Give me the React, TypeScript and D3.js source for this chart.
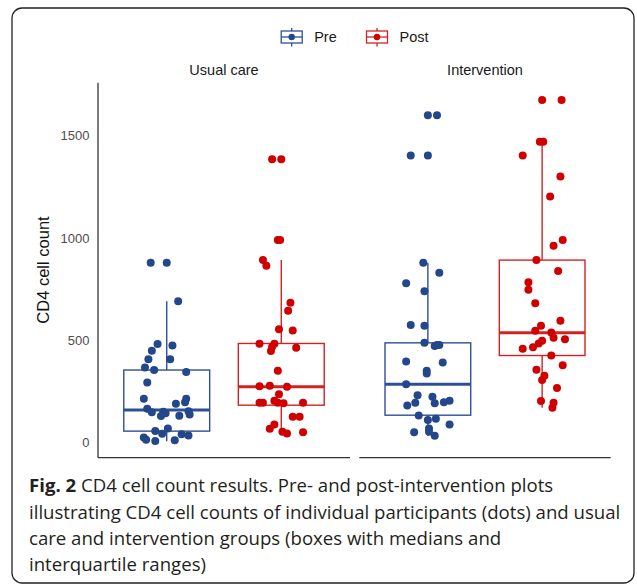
import React from "react";
import { scaleLinear } from "d3";

// data: [value, jitter in category units]
const usualPre: [number, number][] = [
  [879, -0.14], [879, 0.0], [691, 0.1], [481, -0.08], [474, 0.05], [448, -0.13],
  [407, -0.16], [407, 0.03], [366, -0.19], [354, -0.11], [344, 0.17], [293, -0.17],
  [213, -0.2], [213, 0.17], [189, 0.08], [196, 0.16], [164, -0.17], [147, -0.13],
  [150, -0.03], [142, -0.01], [129, -0.05], [130, 0.11], [152, 0.19], [137, 0.2],
  [56, -0.1], [68, 0.01], [42, -0.04], [24, -0.2], [13, -0.18], [7, -0.1],
  [10, 0.07], [40, 0.13], [34, 0.19],
];
const usualPost: [number, number][] = [
  [1386, -0.08], [1386, 0.0], [990, -0.03], [990, -0.01], [892, -0.16], [864, -0.13],
  [683, 0.08], [644, 0.06], [553, -0.02], [548, 0.1], [482, -0.19], [482, -0.06],
  [468, -0.08], [447, -0.09], [463, 0.13], [350, -0.03], [275, -0.19], [277, -0.1],
  [272, 0.05], [235, -0.02], [194, -0.16], [204, -0.06], [194, -0.03], [191, 0.02],
  [194, 0.19], [194, -0.19], [125, 0.1], [125, 0.16], [88, -0.06], [67, -0.1],
  [52, 0.01], [44, 0.05], [50, 0.19],
];
const intervPre: [number, number][] = [
  [1601, 0.0], [1601, 0.08], [1404, -0.15], [1404, 0.0], [879, -0.04], [830, 0.1],
  [779, -0.19], [739, -0.03], [574, -0.15], [571, -0.03], [487, -0.03], [471, 0.06],
  [476, 0.08], [476, 0.1], [396, -0.19], [391, 0.13], [350, -0.01], [337, -0.01],
  [285, -0.19], [230, -0.09], [223, 0.04], [194, -0.11], [181, -0.18], [191, 0.06],
  [196, 0.14], [204, 0.19], [132, -0.08], [109, 0.0], [116, 0.07], [88, 0.19],
  [49, -0.12], [68, 0.01], [52, 0.01], [32, 0.06],
];
const intervPost: [number, number][] = [
  [1675, 0.0], [1675, 0.17], [1471, -0.02], [1471, 0.01], [1404, -0.17], [1301, 0.16],
  [1203, 0.07], [990, 0.18], [962, 0.1], [892, -0.05], [838, 0.14], [784, -0.12],
  [747, -0.12], [681, -0.06], [595, 0.16], [571, -0.01], [546, -0.06], [538, 0.08],
  [512, 0.1], [505, 0.2], [497, 0.0], [484, -0.03], [465, -0.08], [458, -0.17],
  [425, 0.08], [378, 0.18], [355, -0.05], [326, 0.02], [305, 0.0], [266, 0.13],
  [202, -0.01], [194, 0.1], [169, 0.09],
];

// box stats: [lower whisker, q1, median, q3, upper whisker]
const usualPreBox = [6, 55, 158, 354, 691];
const usualPostBox = [44, 182, 272, 484, 892];
const intervPreBox = [32, 133, 285, 487, 879];
const intervPostBox = [169, 425, 536, 892, 1471];

const panels = ["Usual care", "Intervention"];
const timepoints = ["Pre", "Post"];
const yTicks = [0, 500, 1000, 1500];

const captionLines = [
  "CD4 cell count results. Pre- and post-intervention plots",
  "illustrating CD4 cell counts of individual participants (dots) and usual",
  "care and intervention groups (boxes with medians and",
  "interquartile ranges)",
];

const colors = { Pre: "#24468b", Post: "#d10000" };
const lineColors = { Pre: "#2d5095", Post: "#d42222" };

const W = 637;
const H = 586;

const App = () => {
  const y = scaleLinear().domain([-75, 1760]).range([457.7, 82.7]);
  const panelX = [
    scaleLinear().domain([0.4, 2.6]).range([98, 350]),
    scaleLinear().domain([0.4, 2.6]).range([359.3, 610.7]),
  ];
  const groups = [
    [
      { t: "Pre", pts: usualPre, box: usualPreBox },
      { t: "Post", pts: usualPost, box: usualPostBox },
    ],
    [
      { t: "Pre", pts: intervPre, box: intervPreBox },
      { t: "Post", pts: intervPost, box: intervPostBox },
    ],
  ];
  const font = "'Liberation Sans', Arial, sans-serif";

  return (
    <svg
      width={W}
      height={H}
      style={{ position: "absolute", left: 0, top: 0 }}
      fontFamily={font}
    >
      <rect x={0} y={0} width={W} height={H} fill="#fff" />
      <rect x={12} y={8} width={622} height={575} rx={10} fill="none" stroke="#222" strokeWidth={1.3} />

      {/* legend */}
      {timepoints.map((t, i) => {
        const cx = i === 0 ? 291.7 : 377;
        const cy = 37;
        const c = (lineColors as any)[t];
        return (
          <g key={t}>
            <line x1={cx} x2={cx} y1={28} y2={46.5} stroke={c} strokeWidth={1.3} />
            <rect x={cx - 10.5} y={31} width={21} height={12} fill="#fff" stroke={c} strokeWidth={1.3} />
            <line x1={cx - 10.5} x2={cx + 10.5} y1={cy} y2={cy} stroke={c} strokeWidth={1.3} />
            <circle cx={cx} cy={cy} r={3.2} fill={(colors as any)[t]} />
            <text x={cx + 22.5} y={cy + 5} fontSize={14.5} fill="#1a1a1a">{t}</text>
          </g>
        );
      })}

      {/* y axis */}
      <line x1={98} x2={98} y1={y.range()[1]} y2={y.range()[0]} stroke="#333" strokeWidth={1.3} />
      {yTicks.map((t) => (
        <text key={t} x={89.5} y={y(t) + 4.5} fontSize={13} fill="#4d4d4d" textAnchor="end">{t}</text>
      ))}
      <text
        transform={`translate(49,270) rotate(-90)`}
        textAnchor="middle"
        fontSize={16.5}
        fill="#111"
      >CD4 cell count</text>

      {panels.map((p, pi) => {
        const x = panelX[pi];
        return (
          <g key={p}>
            <text x={x(1.5)} y={75} textAnchor="middle" fontSize={14.5} fill="#1a1a1a">{p}</text>
            <line x1={x.range()[0]} x2={x.range()[1]} y1={y.range()[0]} y2={y.range()[0]} stroke="#333" strokeWidth={1.3} />
            {groups[pi].map((g, gi) => {
              const cx = x(gi + 1);
              const hw = x(0.375) - x(0);
              const [lo, q1, med, q3, hi] = g.box;
              const lc = (lineColors as any)[g.t];
              return (
                <g key={g.t}>
                  <line x1={cx} x2={cx} y1={y(q3)} y2={y(hi)} stroke={lc} strokeWidth={1.4} />
                  <line x1={cx} x2={cx} y1={y(q1)} y2={y(lo)} stroke={lc} strokeWidth={1.4} />
                  <rect x={cx - hw} y={y(q3)} width={hw * 2} height={y(q1) - y(q3)} fill="none" stroke={lc} strokeWidth={1.4} />
                  <line x1={cx - hw} x2={cx + hw} y1={y(med)} y2={y(med)} stroke={lc} strokeWidth={3} />
                  {g.pts.map(([v, j], k) => (
                    <circle key={k} cx={x(gi + 1 + j)} cy={y(v)} r={4} fill={(colors as any)[g.t]} />
                  ))}
                </g>
              );
            })}
          </g>
        );
      })}

      {/* caption */}
      <g fontFamily="'Open Sans', sans-serif" fontSize={18.6} fill="#231f20">
        <text x={29} y={492}>
          <tspan fontWeight="bold">Fig. 2</tspan> {captionLines[0]}
        </text>
        {captionLines.slice(1).map((l, i) => (
          <text key={i} x={29} y={518.5 + i * 26}>{l}</text>
        ))}
      </g>
    </svg>
  );
};

export default App;
